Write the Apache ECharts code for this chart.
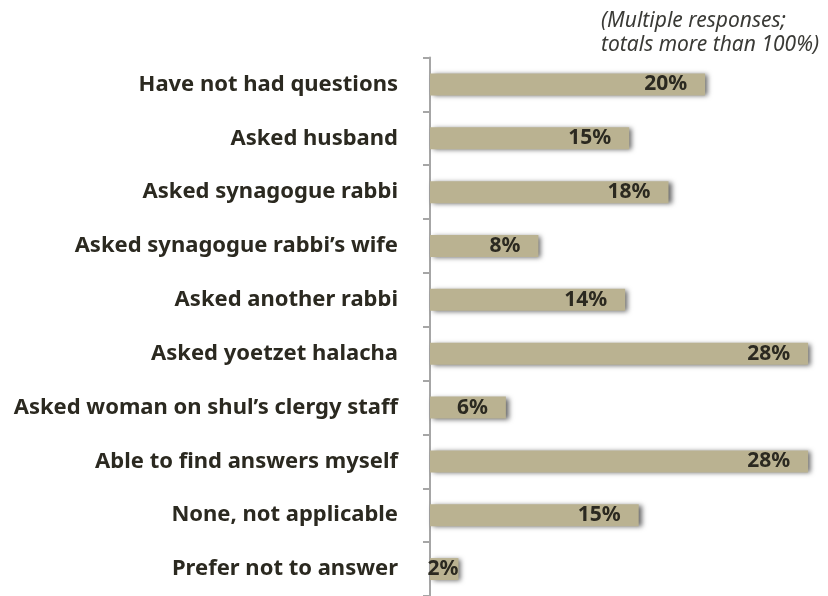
<!DOCTYPE html>
<html>
<head>
<meta charset="utf-8">
<script src="https://cdn.jsdelivr.net/npm/echarts@6/dist/echarts.min.js"></script>
<style>
  html, body { margin: 0; padding: 0; background: #fff; }
  #chart { width: 828px; height: 596px; }
</style>
</head>
<body>
<div id="chart"></div>
<script>
    // answers, top to bottom
    var categories = [
        'Have not had questions',
        'Asked husband',
        'Asked synagogue rabbi',
        'Asked synagogue rabbi\u2019s wife',
        'Asked another rabbi',
        'Asked yoetzet halacha',
        'Asked woman on shul\u2019s clergy staff',
        'Able to find answers myself',
        'None, not applicable',
        'Prefer not to answer'
    ];
    // bar lengths (percent)
    var values = [20.3, 14.7, 17.6, 8.0, 14.4, 27.9, 5.6, 27.9, 15.4, 2.1];
    // labels as printed
    var labels = ['20%', '15%', '18%', '8%', '14%', '28%', '6%', '28%', '15%', '2%'];
    var note = '(Multiple responses; \ntotals more than 100%)';

    var textColor = '#2b2920';
    var fontFamily = '"Noto Sans", sans-serif';

    var seriesData = [];
    for (var i = 0; i < values.length; i++) {
        var item = {value: values[i], label: {formatter: labels[i]}};
        if (values[i] < 4) {
            item.label.distance = 0;
        }
        seriesData.push(item);
    }

    var chart = echarts.init(document.getElementById('chart'));
    chart.setOption({
        animation: false,
        title: {
            text: note,
            right: 4,
            top: 4,
            textStyle: {
                fontFamily: fontFamily,
                fontStyle: 'italic',
                fontWeight: 'normal',
                fontSize: 21,
                lineHeight: 24,
                color: '#3a3a36',
                align: 'right'
            }
        },
        grid: {left: 430, top: 57.5, width: 393, height: 540},
        xAxis: {
            type: 'value',
            min: 0,
            max: 29,
            show: false
        },
        yAxis: {
            type: 'category',
            inverse: true,
            data: categories,
            axisLine: {show: true, lineStyle: {color: '#a6a6a6', width: 2}},
            axisTick: {show: true, length: 7, lineStyle: {color: '#a6a6a6', width: 2}},
            axisLabel: {
                margin: 32,
                color: textColor,
                fontFamily: fontFamily,
                fontWeight: 'bold',
                fontSize: 22
            }
        },
        series: [{
            type: 'bar',
            data: seriesData,
            barWidth: 22,
            itemStyle: {
                color: '#bab291',
                shadowColor: 'rgba(0,0,0,0.6)',
                shadowBlur: 5,
                shadowOffsetX: 3,
                shadowOffsetY: 1
            },
            label: {
                show: true,
                position: 'insideRight',
                distance: 18,
                color: textColor,
                fontFamily: fontFamily,
                fontWeight: 'bold',
                fontSize: 21
            }
        }]
    });
</script>
</body>
</html>
